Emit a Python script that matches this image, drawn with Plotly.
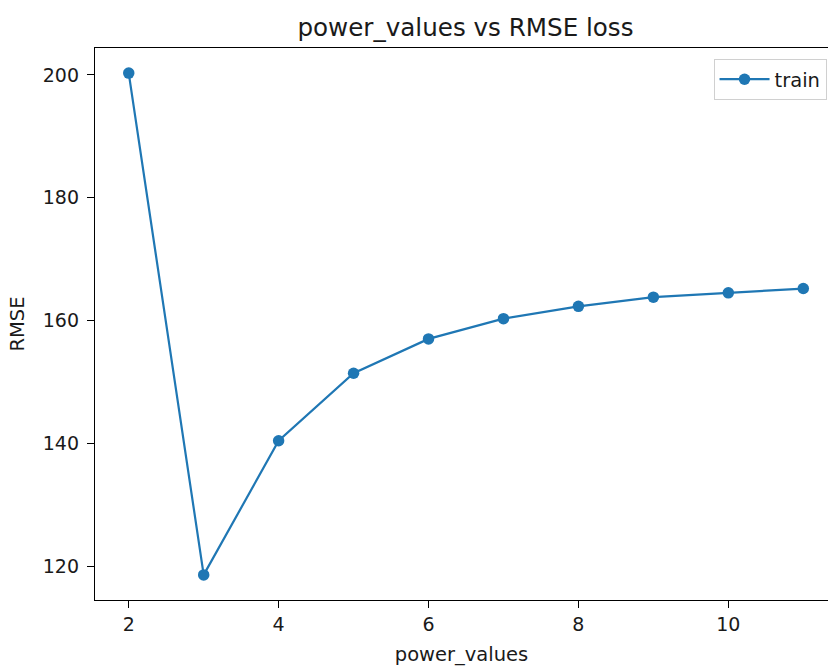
import plotly.graph_objects as go

power_values = [2, 3, 4, 5, 6, 7, 8, 9, 10, 11]
rmse_train = [200.3, 118.55, 140.4, 151.4, 157.0, 160.3, 162.3, 163.8, 164.5, 165.2]
x_tick_vals = [2, 4, 6, 8, 10]
y_tick_vals = [120, 140, 160, 180, 200]

FONT = "DejaVu Sans"
BLUE = "#1f77b4"
TXT = "#1a1a1a"

ymin, ymax = min(rmse_train), max(rmse_train)
ypad = 0.05 * (ymax - ymin)
xpad = 0.05 * (max(power_values) - min(power_values))

fig = go.Figure()
fig.add_trace(go.Scatter(
    x=power_values, y=rmse_train, mode="lines+markers", name="train",
    line=dict(color=BLUE, width=2.2),
    marker=dict(color=BLUE, size=11.5),
))

fig.update_layout(
    width=828, height=666,
    margin=dict(l=95, r=0, t=48, b=66),
    paper_bgcolor="white", plot_bgcolor="white",
    font=dict(family=FONT, size=19, color=TXT),
    title=dict(text="power_values vs RMSE loss", x=0.5054, xref="paper",
               xanchor="center", y=1 - 27 / 666, yref="container", yanchor="middle",
               font=dict(family=FONT, size=24.6, color=TXT)),
    showlegend=True,
    legend=dict(x=0.998, y=0.98, xanchor="right", yanchor="top",
                bgcolor="white", bordercolor="#d0d0d0", borderwidth=1,
                itemwidth=50, tracegroupgap=0,
                font=dict(family=FONT, size=19.5, color=TXT)),
)

fig.update_xaxes(
    range=[min(power_values) - xpad, 11.33],
    tickmode="array", tickvals=x_tick_vals, ticktext=[str(v) for v in x_tick_vals],
    ticks="outside", ticklen=7, tickwidth=1.3, tickcolor="black",
    showline=True, linecolor="black", linewidth=1.3, mirror=True,
    showgrid=False, zeroline=False,
    title=dict(text="power_values", standoff=13, font=dict(family=FONT, size=19.5, color=TXT)),
    tickfont=dict(family=FONT, size=19, color=TXT),
)
fig.update_yaxes(
    range=[ymin - ypad, ymax + ypad],
    tickmode="array", tickvals=y_tick_vals, ticktext=[str(v) for v in y_tick_vals],
    ticks="outside", ticklen=7, tickwidth=1.3, tickcolor="black",
    showline=True, linecolor="black", linewidth=1.3, mirror=False,
    showgrid=False, zeroline=False, ticklabelstandoff=4,
    title=dict(text="RMSE", standoff=12, font=dict(family=FONT, size=19.5, color=TXT)),
    tickfont=dict(family=FONT, size=19, color=TXT),
)

fig.write_html("out.html")
